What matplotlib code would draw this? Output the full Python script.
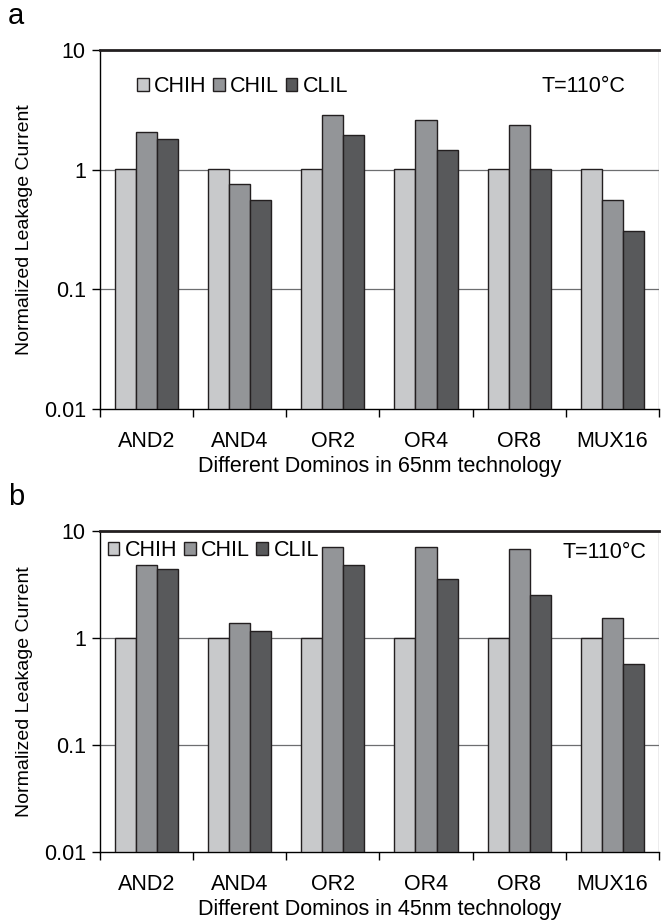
import numpy as np
import matplotlib
matplotlib.use("Agg")
import matplotlib.pyplot as plt
from matplotlib.ticker import FixedLocator, NullLocator

plt.rcParams['font.family'] = ['Liberation Sans', 'DejaVu Sans']

gates = ['AND2', 'AND4', 'OR2', 'OR4', 'OR8', 'MUX16']
series = ['CHIH', 'CHIL', 'CLIL']
colors = ['#c8c9cb', '#939598', '#58595b']

# 65nm technology
chih_65 = [1.0, 1.0, 1.0, 1.0, 1.0, 1.0]
chil_65 = [2.05, 0.745, 2.84, 2.6, 2.34, 0.55]
clil_65 = [1.80, 0.55, 1.92, 1.44, 1.0, 0.30]

# 45nm technology
chih_45 = [1.0, 1.0, 1.0, 1.0, 1.0, 1.0]
chil_45 = [4.8, 1.37, 7.1, 7.1, 6.85, 1.52]
clil_45 = [4.37, 1.16, 4.8, 3.58, 2.49, 0.565]

yticks = [0.01, 0.1, 1, 10]
ytick_labels = ['0.01', '0.1', '1', '10']


def draw_panel(ax, values, xlabel, leg_anchor, temp_pos):
    x = np.arange(len(gates))
    w = 0.226
    handles = []
    for i, (vals, col, name) in enumerate(zip(values, colors, series)):
        b = ax.bar(x + (i - 1) * w, vals, width=w, bottom=0.01, color=col,
                   edgecolor='#231f20', linewidth=1.0, label=name, zorder=3)
        handles.append(b)
    ax.set_yscale('log')
    ax.set_ylim(0.01, 10)
    ax.set_xlim(-0.5, len(gates) - 0.5)
    ax.yaxis.set_major_locator(FixedLocator(yticks))
    ax.yaxis.set_minor_locator(NullLocator())
    ax.set_yticklabels(ytick_labels)
    for v in [0.1, 1]:
        ax.axhline(v, color='#6d6e70', linewidth=0.9, zorder=1)
    ax.axhline(10, color='#231f20', linewidth=2.0, zorder=4, clip_on=False)

    ax.set_xticks(x)
    ax.set_xticklabels(gates)
    ax.xaxis.set_minor_locator(FixedLocator(np.arange(-0.5, len(gates), 1.0)))
    ax.tick_params(axis='x', which='major', length=0, pad=16, labelsize=15.5)
    ax.tick_params(axis='x', which='minor', length=6, width=1.0, direction='out')
    ax.tick_params(axis='y', which='major', length=6, width=1.0, direction='out',
                   labelsize=15.5, pad=4)

    for s in ['top', 'right']:
        ax.spines[s].set_visible(False)
    ax.spines['left'].set_linewidth(1.0)
    ax.spines['bottom'].set_linewidth(1.0)
    ax.axvline(len(gates) - 0.5, color='#6d6e70', linewidth=0.9, zorder=1)

    ax.set_xlabel(xlabel, fontsize=15.5, labelpad=3)
    ax.set_ylabel('Normalized Leakage Current', fontsize=14, labelpad=8)

    ax.legend(handles=handles, loc='center left', bbox_to_anchor=leg_anchor,
              ncol=3, frameon=False, fontsize=15.5, handlelength=0.55,
              handleheight=0.55, handletextpad=0.25, columnspacing=0.3,
              borderaxespad=0, borderpad=0)
    ax.text(temp_pos[0], temp_pos[1], 'T=110°C', transform=ax.transAxes,
            fontsize=15.5, va='center', ha='left')


fig = plt.figure(figsize=(6.65, 9.24), dpi=100)
ax1 = fig.add_axes([0.150, 0.5574, 0.841, 0.3885])
ax2 = fig.add_axes([0.150, 0.0779, 0.841, 0.3474])

draw_panel(ax1, [chih_65, chil_65, clil_65],
           'Different Dominos in 65nm technology', (0.066, 0.899), (0.79, 0.899))
draw_panel(ax2, [chih_45, chil_45, clil_45],
           'Different Dominos in 45nm technology', (0.014, 0.938), (0.828, 0.932))

fig.text(0.012, 0.998, 'a', fontsize=21, va='top', ha='left')
fig.text(0.012, 0.477, 'b', fontsize=21, va='top', ha='left')

fig.savefig('out.png', dpi=100)
